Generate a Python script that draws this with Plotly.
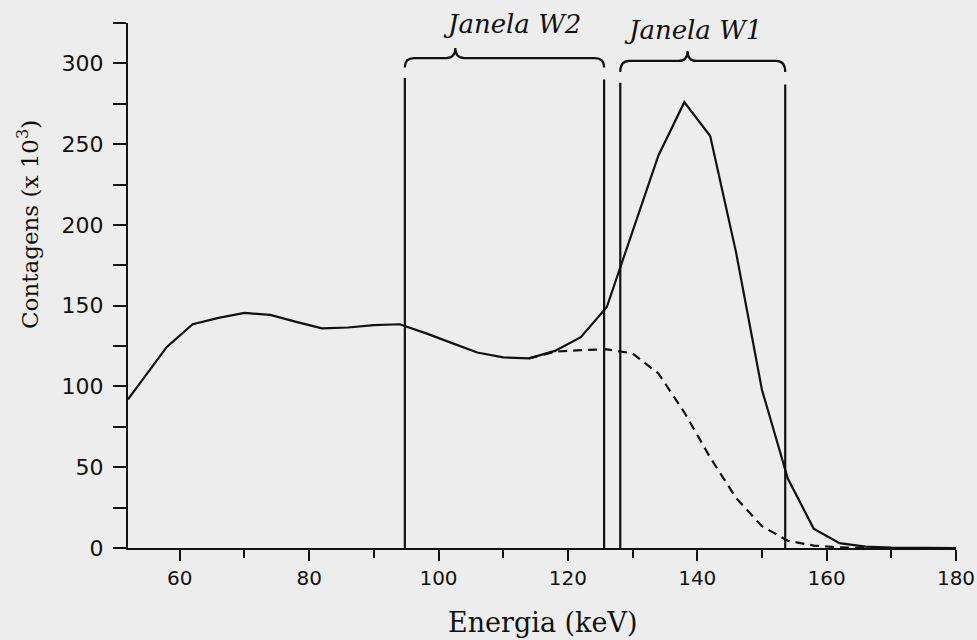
import plotly.graph_objects as go

# ---- data ----
energy_total = [52, 54, 58, 62, 66, 70, 74, 78, 82, 86, 90, 94, 98, 102, 106, 110, 114,
                118, 122, 126, 130, 134, 138, 142, 146, 150, 154, 158, 162, 166, 170, 174, 178, 180]
counts_total = [92, 103, 124.5, 138.5, 142.5, 145.5, 144.3, 140, 136, 136.5, 138, 138.5, 133,
                127, 121, 118, 117.4, 122, 130.5, 149, 196, 243, 276, 255, 183, 98, 43, 12,
                3, 0.8, 0.3, 0.1, 0, 0]

energy_scatter = [114, 118, 122, 126, 130, 134, 138, 142, 146, 150, 154, 158, 162, 166]
counts_scatter = [117.4, 121.5, 122.5, 123, 120.5, 108, 84, 56, 31, 13.5, 4.5, 1.5, 0.4, 0]

window_names = ["Janela W2", "Janela W1"]
window_lo = [94.8, 128.1]
window_hi = [125.6, 153.6]
window_top_lo = [291, 288]
window_top_hi = [290, 287]
brace_center = [102.6, 138.5]
brace_level = [303.3, 301.5]
brace_end = [297.5, 294.6]
brace_tip = [309.5, 307.7]
label_x = [111.3, 139.3]
label_y_paper = [0.999, 0.986]

x_ticks = [60, 80, 100, 120, 140, 160, 180]
y_ticks = [0, 50, 100, 150, 200, 250, 300]

BG = "#ededed"
INK = "#111111"

fig = go.Figure()
fig.add_trace(go.Scatter(x=energy_total, y=counts_total, mode="lines",
                         line=dict(color=INK, width=2.2), showlegend=False))
fig.add_trace(go.Scatter(x=energy_scatter, y=counts_scatter, mode="lines",
                         line=dict(color=INK, width=2.2, dash="9px,6px"), showlegend=False))

shapes = []
for i in range(2):
    lo, hi = window_lo[i], window_hi[i]
    shapes.append(dict(type="line", xref="x", yref="y", x0=lo, x1=lo, y0=0, y1=window_top_lo[i],
                       line=dict(color=INK, width=2.2)))
    shapes.append(dict(type="line", xref="x", yref="y", x0=hi, x1=hi, y0=0, y1=window_top_hi[i],
                       line=dict(color=INK, width=2.2)))
    c, yl, ye, yt = brace_center[i], brace_level[i], brace_end[i], brace_tip[i]
    dx = 1.4
    path = (f"M {lo},{ye} Q {lo},{yl} {lo+dx},{yl} L {c-dx},{yl} Q {c},{yl} {c},{yt} "
            f"Q {c},{yl} {c+dx},{yl} L {hi-dx},{yl} Q {hi},{yl} {hi},{ye}")
    shapes.append(dict(type="path", xref="x", yref="y", path=path,
                       line=dict(color=INK, width=2.2)))

annotations = []
for i in range(2):
    annotations.append(dict(x=label_x[i], y=label_y_paper[i], xref="x", yref="paper",
                            text=f"<i>{window_names[i]}</i>", showarrow=False,
                            font=dict(family="DejaVu Serif", size=26, color=INK),
                            xanchor="center", yanchor="middle"))
annotations.append(dict(x=0.501, y=-0.141, xref="paper", yref="paper", text="Energia (keV)",
                        showarrow=False, font=dict(family="DejaVu Serif", size=27, color=INK),
                        xanchor="center", yanchor="middle"))
annotations.append(dict(x=-0.1208, y=0.617, xref="paper", yref="paper",
                        text="Contagens (x 10<sup>3</sup>)", textangle=-90,
                        showarrow=False, font=dict(family="DejaVu Serif", size=23, color=INK),
                        xanchor="center", yanchor="middle"))

fig.update_layout(
    width=977, height=640, autosize=False,
    margin=dict(l=128, r=21, t=23, b=92, autoexpand=False),
    paper_bgcolor=BG, plot_bgcolor=BG,
    shapes=shapes, annotations=annotations,
    showlegend=False,
    xaxis=dict(range=[52, 180], tickvals=x_ticks, ticktext=[str(v) for v in x_ticks],
               automargin=False,
               showgrid=False, zeroline=False, showline=True, linecolor=INK, linewidth=2.2,
               ticks="outside", ticklen=11, tickwidth=2.2, tickcolor=INK,
               tickfont=dict(family="DejaVu Sans", size=20, color=INK),
               minor=dict(dtick=10, tick0=0, ticks="outside", ticklen=8, tickwidth=2, tickcolor=INK),
               fixedrange=True),
    yaxis=dict(range=[0, 325], tickvals=y_ticks, ticktext=[str(v) for v in y_ticks],
               automargin=False,
               showgrid=False, zeroline=False, showline=True, linecolor=INK, linewidth=2.2,
               ticks="outside", ticklen=13, tickwidth=2.2, tickcolor=INK,
               ticklabelstandoff=5,
               tickfont=dict(family="DejaVu Sans", size=22, color=INK),
               minor=dict(dtick=25, tick0=0, ticks="outside", ticklen=13, tickwidth=2, tickcolor=INK),
               fixedrange=True),
)

fig.write_html("out.html", config={"displayModeBar": False, "responsive": False})

# remove the browser's default page margin so the figure sits at the top-left corner
with open("out.html", "r", encoding="utf-8") as f:
    html = f.read()
html = html.replace("<head>", "<head><style>html,body{margin:0;padding:0;background:%s;overflow:hidden;}</style>" % BG, 1)
with open("out.html", "w", encoding="utf-8") as f:
    f.write(html)
